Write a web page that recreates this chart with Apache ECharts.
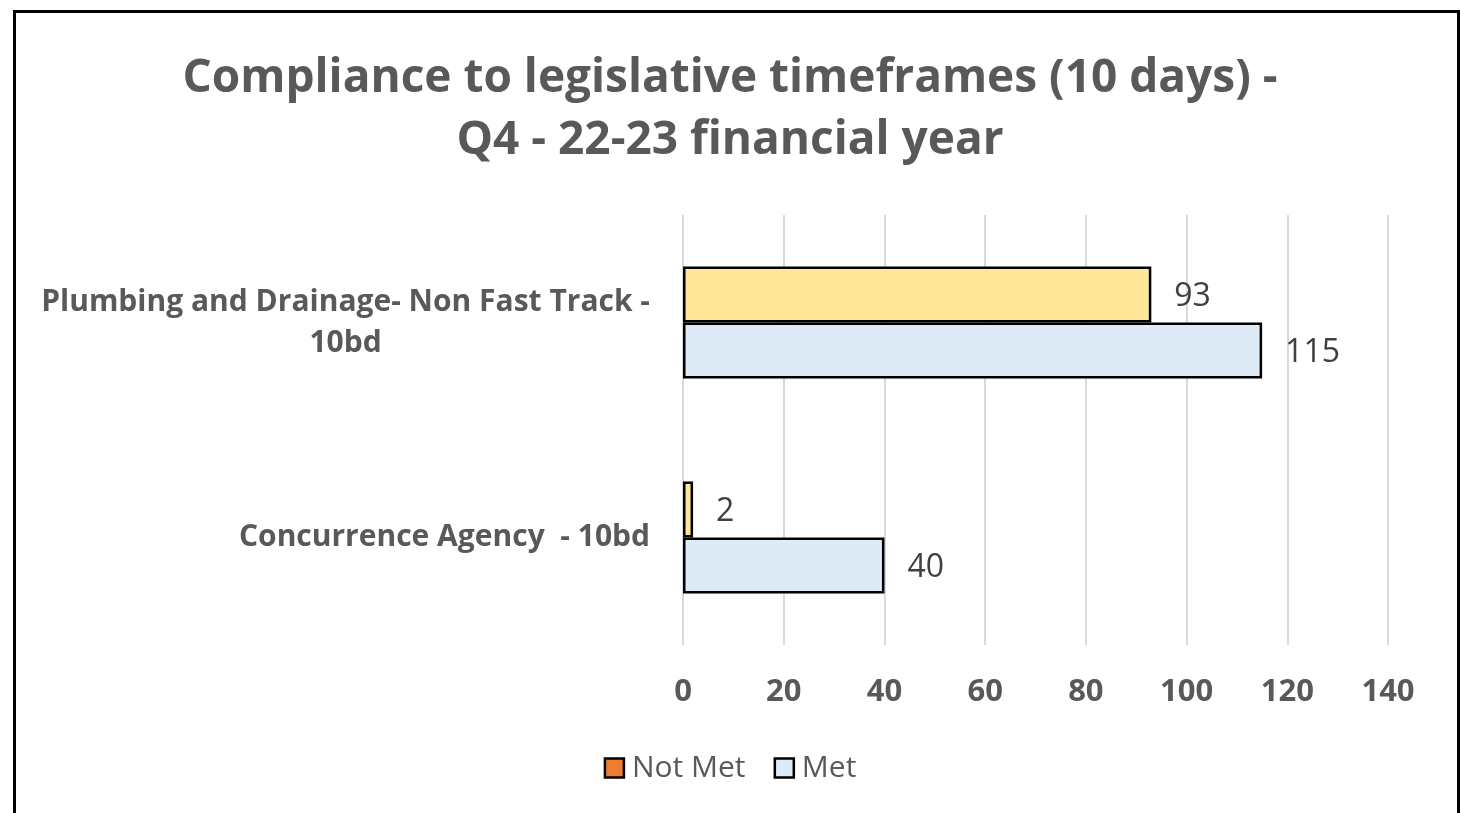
<!DOCTYPE html>
<html>
<head>
<meta charset="utf-8">
<script src="https://cdn.jsdelivr.net/npm/echarts@6/dist/echarts.min.js"></script>
<style>
html,body{margin:0;padding:0;background:#fff;}
#wrap{position:relative;width:1460px;height:813px;overflow:hidden;}
#chart{position:absolute;left:0;top:0;width:1460px;height:813px;}
#frame{position:absolute;left:13px;top:10px;width:1441px;height:900px;border:3px solid #000;pointer-events:none;}
</style>
</head>
<body>
<div id="wrap"><div id="chart"></div><div id="frame"></div></div>
<script>
const titleText = 'Compliance to legislative timeframes (10 days) -\nQ4 - 22-23 financial year';
const categories = ['Concurrence Agency  - 10bd', 'Plumbing and Drainage- Non Fast Track -\n10bd'];
const notMet = [2, 93];
const met = [40, 115];
const xTicks = {min: 0, max: 140, interval: 20};
const FONT = '"Open Sans", sans-serif';

const chart = echarts.init(document.getElementById('chart'));
chart.setOption({
  animation: false,
  title: {
    text: titleText,
    left: 'center',
    top: 43,
    textStyle: {fontFamily: FONT, fontSize: 46, fontWeight: 'bold', color: '#595959', lineHeight: 62}
  },
  legend: {
    data: [
      {name: 'Not Met', itemStyle: {color: '#ED7D31', borderColor: '#000', borderWidth: 2.5}},
      {name: 'Met', itemStyle: {color: '#DEEBF7', borderColor: '#000', borderWidth: 2.5}}
    ],
    left: 'center',
    top: 748,
    itemWidth: 19,
    itemHeight: 19,
    itemGap: 28,
    icon: 'rect',
    textStyle: {fontFamily: FONT, fontSize: 30, color: '#595959', padding: [0, 0, 0, 3]}
  },
  grid: {left: 683, right: 72, top: 215, bottom: 168, containLabel: false},
  xAxis: {
    type: 'value',
    min: xTicks.min, max: xTicks.max, interval: xTicks.interval,
    axisLine: {show: false},
    axisTick: {show: false},
    splitLine: {lineStyle: {color: '#D9D9D9', width: 2}},
    axisLabel: {fontFamily: FONT, fontSize: 31, fontWeight: 'bold', color: '#595959', margin: 32}
  },
  yAxis: {
    type: 'category',
    data: categories,
    axisLine: {show: false},
    axisTick: {show: false},
    axisLabel: {
      margin: 33,
      formatter: function (v) { return v.split('\n').map(function (s) { return '{a|' + s + '}'; }).join('\n'); },
      rich: {a: {fontFamily: FONT, fontSize: 30, fontWeight: 'bold', color: '#595959', align: 'center', lineHeight: 41}}
    }
  },
  series: [
    {
      name: 'Not Met', type: 'bar',
      data: notMet.map(function (v) { return {value: v, itemStyle: {color: '#FFE699'}}; }),
      itemStyle: {color: '#ED7D31', borderColor: '#000', borderWidth: 2.5},
      barGap: '0%', barCategoryGap: '48%',
      label: {show: true, position: 'right', distance: 23, fontFamily: FONT, fontSize: 32, color: '#404040', offset: [0, 2]}
    },
    {
      name: 'Met', type: 'bar',
      data: met,
      itemStyle: {color: '#DEEBF7', borderColor: '#000', borderWidth: 2.5},
      barGap: '0%', barCategoryGap: '48%',
      label: {show: true, position: 'right', distance: 23, fontFamily: FONT, fontSize: 32, color: '#404040', offset: [0, 2]}
    }
  ]
});
</script>
</body>
</html>
